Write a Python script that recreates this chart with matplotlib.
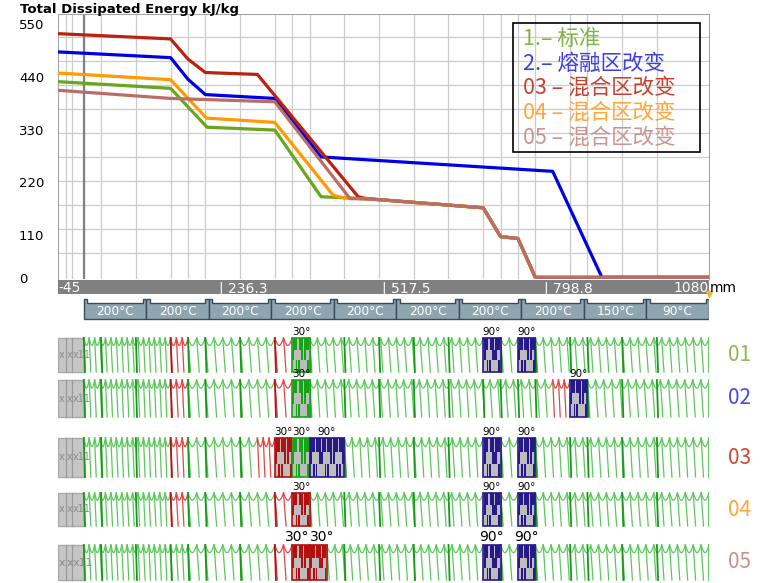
import numpy as np
import matplotlib
matplotlib.use('Agg')
import matplotlib.pyplot as plt
from matplotlib.patches import Rectangle, Polygon

plt.rcParams['font.family'] = ['DejaVu Sans']
cjk = ['Noto Sans CJK SC', 'DejaVu Sans']

# energy curves: screw position (mm) / energy (kJ/kg)
tail_x = [510, 690, 720, 750, 780, 1080]
tail_y = [162, 145, 85, 81, 0, 0]
x01 = [-45, 150, 213, 330, 410, 450] + tail_x
y01 = [408, 394, 313, 307, 168, 166] + tail_y
x02 = [-45, 150, 180, 210, 330, 410, 517, 810, 895, 1080]
y02 = [470, 458, 413, 381, 373, 251, 243, 221, 0, 0]
x03 = [-45, 150, 180, 210, 300, 474, 485] + tail_x
y03 = [508, 497, 455, 427, 423, 168, 165] + tail_y
x04 = [-45, 150, 212, 330, 431, 448] + tail_x
y04 = [426, 412, 332, 323, 171, 166] + tail_y
x05 = [-45, 150, 330, 460, 485] + tail_x
y05 = [390, 373, 366, 164, 164] + tail_y

names = ['1.– 标准', '2.– 熔融区改变', '03 – 混合区改变', '04 – 混合区改变', '05 – 混合区改变']
line_colors = ['#6aa51c', '#0000e6', '#b8220e', '#ff9a00', '#b86e66']
text_colors = ['#80b545', '#4040e0', '#c4412f', '#ffa638', '#c99494']

grid_x = [-30, -20, 0, 30, 90, 150, 180, 210, 270, 330, 360, 390, 450, 510,
          570, 630, 690, 720, 750, 780, 840, 870, 930, 990]
grid_y = [50, 100, 150, 200, 250, 300, 350, 400, 450, 500]
ylab_vals = [550, 440, 330, 220, 110, 0]
xlab_vals = [236.3, 517.5, 798.8]

zone_edges = [0, 108, 216, 324, 432, 540, 648, 756, 864, 972, 1080]
zone_temps = ['200°C'] * 8 + ['150°C', '90°C']

# screw layouts: (start, end, kind, colour, pitch or angle)
screw01 = [(0, 150, 'c', 'g', 9.4), (150, 180, 'c', 'r', 10), (180, 330, 'c', 'g', 15),
           (330, 360, 'c', 'r', 15), (360, 390, 'k', 'g', '30°'), (390, 690, 'c', 'g', 13.5),
           (690, 720, 'k', 'b', '90°'), (720, 750, 'c', 'g', 15), (750, 780, 'k', 'b', '90°'),
           (780, 1080, 'c', 'g', 13.6)]
screw02 = [(0, 150, 'c', 'g', 9.4), (150, 180, 'c', 'r', 10), (180, 330, 'c', 'g', 15),
           (330, 360, 'c', 'r', 15), (360, 390, 'k', 'g', '30°'), (390, 810, 'c', 'g', 13.5),
           (810, 840, 'c', 'r', 10), (840, 870, 'k', 'b', '90°'), (870, 1080, 'c', 'g', 13.6)]
screw03 = [(0, 150, 'c', 'g', 9.4), (150, 180, 'c', 'r', 10), (180, 300, 'c', 'g', 15),
           (300, 330, 'c', 'r', 10), (330, 360, 'k', 'r', '30°'), (360, 390, 'k', 'g', '30°'),
           (390, 450, 'k', 'b', '90°'), (450, 690, 'c', 'g', 13.5), (690, 720, 'k', 'b', '90°'),
           (720, 750, 'c', 'g', 15), (750, 780, 'k', 'b', '90°'), (780, 1080, 'c', 'g', 13.6)]
screw04 = [(0, 150, 'c', 'g', 9.4), (150, 180, 'c', 'r', 10), (180, 330, 'c', 'g', 15),
           (330, 360, 'c', 'r', 15), (360, 390, 'k', 'r', '30°'), (390, 690, 'c', 'g', 13.5),
           (690, 720, 'k', 'b', '90°'), (720, 750, 'c', 'g', 15), (750, 780, 'k', 'b', '90°'),
           (780, 1080, 'c', 'g', 13.6)]
screw05 = [(0, 150, 'c', 'g', 9.4), (150, 180, 'c', 'g', 10), (180, 330, 'c', 'g', 15),
           (330, 360, 'c', 'r', 15), (360, 390, 'k', 'r', '30°'), (390, 420, 'k', 'r', '30°'),
           (420, 690, 'c', 'g', 13.5), (690, 720, 'k', 'b', '90°'), (720, 750, 'c', 'g', 15),
           (750, 780, 'k', 'b', '90°'), (780, 1080, 'c', 'g', 13.6)]
screws = [screw01, screw02, screw03, screw04, screw05]
row_names = ['01', '02', '03', '04', '05']
row_colors = ['#8dba4c', '#4a4ae8', '#cc4b35', '#ffa640', '#cc8f8f']

conv_col = {'g': ('#5cc85c', '#18981a'), 'r': ('#e04848', '#b01818')}
kb_col = {'g': '#16a416', 'b': '#27198a', 'r': '#b3100f'}

W, H = 768, 583
fig = plt.figure(figsize=(7.68, 5.83), dpi=100)

# ---- energy chart
ax = fig.add_axes([57.7 / W, 1 - 279.3 / H, 651.3 / W, 265.8 / H])
ax.set_xlim(-45, 1080)
ax.set_ylim(-4, 550)
for g in grid_x:
    ax.axvline(g, color='#cccccc', lw=0.9, zorder=0)
ax.axvline(0, color='#808080', lw=1.6, zorder=1)
for g in grid_y:
    ax.axhline(g, color='#cccccc', lw=0.9, zorder=0)
ax.set_xticks([])
ax.set_yticks([])
for s in ax.spines.values():
    s.set_color('#a6a6a6')
ax.spines['bottom'].set_visible(False)

for xs, ys, c in zip([x01, x02, x03, x04, x05], [y01, y02, y03, y04, y05], line_colors):
    ax.plot(xs, ys, color=c, lw=2.3, zorder=3)

for v in ylab_vals:
    ax.annotate(str(v), xy=(0, v), xycoords=('axes fraction', 'data'),
                xytext=(-38.7, -12 if v else -2.5), textcoords='offset pixels',
                ha='left', va='center', fontsize=9.5, annotation_clip=False)

fig.text(20 / W, 1 - 9 / H, 'Total Dissipated Energy kJ/kg', fontsize=9.5,
         fontweight='bold', va='center')

ax.add_patch(Rectangle((0.699, 0.479), 0.287, 0.485, transform=ax.transAxes,
                       fill=False, ec='black', lw=1.2, zorder=5))
for i, (n, c) in enumerate(zip(names, text_colors)):
    ax.text(0.714, 0.904 - i * 0.0923, n, color=c, fontsize=15.5, family=cjk,
            fontweight='light', transform=ax.transAxes, va='center', zorder=6)

# ---- axis band, barrel zones and screws
bx = fig.add_axes([57.7 / W, 0, 651.3 / W, 303 / H])
bx.set_xlim(-45, 1080)
bx.set_ylim(303, 0)
bx.axis('off')

bx.add_patch(Rectangle((-45, 0), 1125, 14, fc='#808080', ec='none'))
bx.text(-44, 8.5, '-45', color='white', ha='left', va='center', fontsize=10)
for v in xlab_vals:
    bx.text(v - 3, 8.5, f'| {v}', color='white', ha='left', va='center', fontsize=10)
bx.text(1080, 8.5, '1080', color='white', ha='right', va='center', fontsize=10)
bx.text(1081, 8.5, 'mm', color='black', ha='left', va='center', fontsize=10, clip_on=False)
bx.plot([1080], [14], marker='v', color='#f2b233', ms=5, clip_on=False)

ear = 6
for e0, e1, t in zip(zone_edges[:-1], zone_edges[1:], zone_temps):
    verts = [(e0, 39), (e0, 19), (e0 + ear, 19), (e0 + ear, 23), (e1 - ear, 23),
             (e1 - ear, 19), (e1, 19), (e1, 39)]
    bx.add_patch(Polygon(verts, closed=True, fc='#8fa6b0', ec='#3b4c54', lw=1))
    bx.text((e0 + e1) / 2, 31.5, t, color='white', fontsize=8.8, ha='center', va='center')

row_tops = [58, 100, 158, 213, 265]
row_bots = [92, 137, 197, 246, 300]
label_sizes = [7.5, 7.5, 7.5, 7.5, 10]
tt = np.linspace(0, 1, 12)


def conveying(a, b, pitch, col, top, bot):
    n = max(1, int(round((b - a) / pitch)))
    p = (b - a) / n
    amp = (bot - top) * 0.22
    for k in range(n):
        xs = a + k * p
        bx.plot(xs + tt * p, top + amp * np.sin(np.pi * tt), color=col, lw=0.9)
        bx.plot([xs, xs + 0.3 * p], [top, bot], color=col, lw=0.9)


def kneading(a, b, col, top, bot):
    h = bot - top
    bx.add_patch(Rectangle((a, top), b - a, h, fc='#bdbdbd', ec=col, lw=1.2, zorder=3))
    nd = int(round((b - a) / 10))
    dw = (b - a) / nd
    for i in range(nd):
        x0 = a + i * dw
        bx.add_patch(Rectangle((x0 + 0.1 * dw, top), 0.8 * dw, 0.36 * h, fc=col, ec='none', zorder=4))
        off = 0.05 if i % 2 == 0 else 0.6
        bx.add_patch(Rectangle((x0 + off * dw, top + 0.36 * h), 0.35 * dw, 0.3 * h, fc=col, ec='none', zorder=4))
        off = 0.6 if i % 2 == 0 else 0.05
        bx.add_patch(Rectangle((x0 + off * dw, top + 0.66 * h), 0.3 * dw, 0.34 * h, fc=col, ec='none', zorder=4))


for screw, top, bot, rn, rc, ls in zip(screws, row_tops, row_bots, row_names, row_colors, label_sizes):
    h = bot - top
    bx.add_patch(Rectangle((-45, top), 45, h, fc='#c6c6c6', ec='#a9a9a9', lw=1))
    for g in [-30, -20]:
        bx.plot([g, g], [top, bot], color='#9a9a9a', lw=0.9)
    for xt, s in zip([-43, -30, -19], ['x', 'x', 'x11']):
        bx.text(xt, top + h / 2, s, color='#8a8a8a', fontsize=7 if ls < 10 else 8,
                ha='left', va='center')
    for j, (a, b, kind, c, val) in enumerate(screw):
        if kind == 'c':
            light, dark = conv_col[c]
            conveying(a, b, val, light, top, bot)
            for g in grid_x:
                if a <= g < b and g >= 0:
                    bx.plot([g, g + 2], [top, bot], color=dark, lw=1.3)
        else:
            kneading(a, b, kb_col[c], top, bot)
            # big labels of touching blocks are set edge to edge
            nxt = screw[j + 1] if j + 1 < len(screw) else None
            prv = screw[j - 1] if j > 0 else None
            if ls >= 10 and nxt and nxt[2] == 'k':
                lx, ha = b, 'right'
            elif ls >= 10 and prv and prv[2] == 'k':
                lx, ha = a, 'left'
            else:
                lx, ha = (a + b) / 2, 'center'
            bx.text(lx, top - 1, val, fontsize=ls, ha=ha, va='bottom', zorder=5)
    bx.plot([1080, 1080], [top, bot], color=conv_col['g'][0], lw=1.3)
    bx.text(1133, top + h / 2, rn, color=rc, fontsize=15, family=cjk, fontweight='light',
            ha='center', va='center', clip_on=False)

fig.savefig('out.png', dpi=100)
